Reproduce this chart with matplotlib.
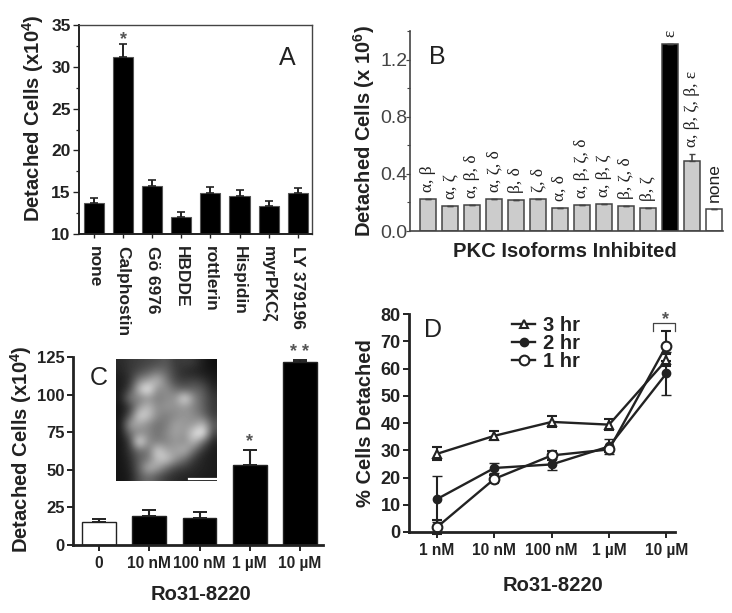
import numpy as np
import matplotlib
matplotlib.use("Agg")
import matplotlib.pyplot as plt

plt.rcParams["font.family"] = ["Liberation Sans", "DejaVu Sans"]
plt.rcParams["mathtext.default"] = "regular"

W, H = 732, 613
INK = "#222222"

# panel A
a_labels = ["none", "Calphostin", "Gö 6976", "HBDDE", "rottlerin", "Hispidin", "myrPKCζ", "LY 379196"]
a_values = [13.7, 31.2, 15.8, 12.05, 14.9, 14.5, 13.3, 14.9]
a_errors = [0.6, 1.5, 0.7, 0.55, 0.7, 0.8, 0.6, 0.6]

# panel B
b_labels = ["α, β", "α, ζ", "α, β, δ", "α, ζ, δ", "β, δ", "ζ, δ", "α, δ", "α, β, ζ, δ",
            "α, β, ζ", "β, ζ, δ", "β, ζ", "ε", "α, β, ζ, β, ε", "none"]
b_values = [0.226, 0.173, 0.18, 0.226, 0.219, 0.226, 0.163, 0.18, 0.189, 0.173, 0.163, 1.306, 0.487, 0.156]
b_errors = [0, 0, 0, 0, 0, 0, 0, 0, 0, 0, 0, 0, 0.05, 0]
b_colors = ["#cccccc"] * 11 + ["black", "#cccccc", "white"]

# panel C
c_labels = ["0", "10 nM", "100 nM", "1 µM", "10 µM"]
c_values = [15.3, 19, 18, 53, 121.8]
c_errors = [1.8, 4, 3.8, 10, 1]
c_colors = ["white", "black", "black", "black", "black"]

# rough brightness of the micrograph in panel C
photo = [
    [60, 70, 75, 80, 85, 95, 70, 75, 70, 50, 40],
    [55, 70, 85, 100, 120, 105, 75, 60, 55, 50, 45],
    [50, 65, 130, 150, 170, 120, 80, 75, 80, 70, 50],
    [50, 80, 170, 215, 130, 135, 110, 100, 105, 95, 60],
    [50, 125, 120, 135, 120, 130, 140, 205, 130, 100, 70],
    [45, 70, 140, 170, 130, 140, 135, 140, 125, 100, 70],
    [45, 90, 190, 175, 130, 120, 130, 140, 130, 110, 75],
    [45, 150, 150, 130, 110, 120, 150, 140, 140, 170, 95],
    [45, 110, 130, 130, 110, 130, 150, 135, 190, 215, 80],
    [45, 70, 215, 130, 120, 125, 140, 130, 170, 110, 55],
    [45, 70, 110, 110, 190, 150, 145, 165, 110, 65, 50],
    [45, 60, 100, 115, 170, 180, 140, 110, 70, 55, 50],
    [45, 55, 100, 165, 150, 110, 80, 70, 60, 55, 50],
    [45, 50, 90, 110, 90, 70, 60, 55, 55, 50, 50],
]

# panel D
d_labels = ["1 nM", "10 nM", "100 nM", "1 µM", "10 µM"]
d_3hr = [28.7, 35.3, 40.4, 39.4, 63.1]
d_3hr_err = [2.4, 1.6, 2.0, 2.0, 2.2]
d_2hr = [12.1, 23.5, 24.8, 31.4, 58.2]
d_2hr_err = [8.5, 2.0, 2.0, 2.6, 8.0]
d_1hr = [1.8, 19.5, 28.1, 30.3, 68.4]
d_1hr_err = [2.7, 1.5, 1.5, 0.8, 5.5]


def make_axes(fig, left, top, right, bottom):
    # pixel box -> figure fraction
    ax = fig.add_axes([left / W, 1 - bottom / H, (right - left) / W, (bottom - top) / H])
    ax.patch.set_alpha(0)
    return ax


def style(ax, lw=1.8, size=13.5, weight="bold", color=INK):
    for s in ["top", "right"]:
        ax.spines[s].set_visible(False)
    for s in ["left", "bottom"]:
        ax.spines[s].set_linewidth(lw)
        ax.spines[s].set_color(color)
    ax.tick_params(width=lw * 0.7, length=4, colors=color, labelsize=size, pad=2)
    for t in ax.get_xticklabels() + ax.get_yticklabels():
        t.set_fontweight(weight)


fig = plt.figure(figsize=(W / 100, H / 100), dpi=100)

# A
ax = make_axes(fig, 79, 25, 312, 234)
ax.bar(range(8), a_values, width=0.69, color="black", edgecolor="#555555", linewidth=0.8,
       yerr=[np.zeros(8), a_errors], error_kw=dict(ecolor=INK, elinewidth=1.4, capsize=3, capthick=1.2))
ax.set_xlim(-0.515, 7.49)
ax.set_ylim(10, 35)
ax.set_yticks([10, 15, 20, 25, 30, 35])
ax.set_yticks([12.5, 17.5, 22.5, 27.5, 32.5], minor=True)
ax.set_xticks(range(8))
ax.set_xticklabels(a_labels, rotation=-90)
style(ax, lw=1.4, size=12.5)
ax.tick_params(axis="y", which="minor", length=2.5, width=0.9, colors=INK)
ax.tick_params(axis="x", labelsize=12.5, length=3, pad=6)
ax.spines["top"].set_visible(True)
ax.spines["right"].set_visible(True)
for s in ["top", "right"]:
    ax.spines[s].set_linewidth(1.0)
    ax.spines[s].set_color("#444444")
ax.set_ylabel("Detached Cells (x10$^{4}$)", fontsize=14.6, fontweight="bold", color=INK, labelpad=3.5, y=0.555)
ax.text(1, 33.2, "*", ha="center", va="center", fontsize=13, fontweight="bold", color="#555555")
ax.text(6.63, 31.0, "A", ha="center", va="center", fontsize=18, color=INK)

# B
ax = make_axes(fig, 410, 31, 723, 231)
ax.bar(range(14), b_values, width=0.7, color=b_colors, edgecolor="#444444", linewidth=1.1,
       yerr=[np.zeros(14), b_errors], error_kw=dict(ecolor="#444444", elinewidth=1.2, capsize=2.5, capthick=1.0))
ax.set_xlim(-0.82, 13.4)
ax.set_ylim(0, 1.4)
ax.set_yticks([0, 0.4, 0.8, 1.2])
ax.set_yticklabels(["0.0", "0.4", "0.8", "1.2"])
ax.set_yticks([0.2, 0.6, 1.0, 1.4], minor=True)
ax.set_xticks([])
style(ax, lw=1.2, size=14, weight="normal", color="#444444")
ax.tick_params(axis="y", length=3, pad=-1)
ax.tick_params(axis="y", which="minor", length=2.5, width=0.8, colors="#444444")
ax.set_ylabel("Detached Cells (x 10$^{6}$)", fontsize=14.5, fontweight="bold", color=INK, labelpad=2)
ax.set_xlabel("PKC Isoforms Inhibited", fontsize=14.6, fontweight="bold", color=INK, labelpad=8, x=0.495)
for i, (lab, v, e) in enumerate(zip(b_labels, b_values, b_errors)):
    serif = lab != "none"
    ax.text(i, v + e + 0.05, lab, rotation=90, ha="center", va="bottom", color=INK,
            fontsize=12.5, family="Liberation Serif" if serif else "Liberation Sans")
ax.text(0.4, 1.22, "B", ha="center", va="center", fontsize=18, color=INK)

# C
ax = make_axes(fig, 73, 357, 323, 545)
ax.bar(range(5), c_values, width=0.67, color=c_colors, edgecolor=INK, linewidth=1.0,
       yerr=[np.zeros(5), c_errors], error_kw=dict(ecolor=INK, elinewidth=1.5, capsize=5, capthick=1.4))
ax.set_xlim(-0.52, 4.46)
ax.set_ylim(0, 125)
ax.set_yticks([0, 25, 50, 75, 100, 125])
ax.set_xticks(range(5))
ax.set_xticklabels(c_labels)
style(ax, lw=2.0, size=11.2)
ax.tick_params(axis="y", labelsize=12)
ax.tick_params(axis="x", pad=4)
ax.set_ylabel("Detached Cells (x10$^{4}$)", fontsize=14.6, fontweight="bold", color=INK, labelpad=2, y=0.51)
ax.set_xlabel("Ro31-8220", fontsize=14.5, fontweight="bold", color=INK, labelpad=10, x=0.51)
ax.text(3, 69, "*", ha="center", va="center", fontsize=13, fontweight="bold", color="#555555")
ax.text(4, 128, "* *", ha="center", va="center", fontsize=13, fontweight="bold", color="#555555", clip_on=False)
ax.text(0.0, 111, "C", ha="center", va="center", fontsize=18, color=INK)

inset = make_axes(fig, 116, 359, 217, 481)
inset.imshow(np.array(photo), cmap="gray", vmin=30, vmax=215, aspect="auto", interpolation="bicubic")
inset.set_xticks([])
inset.set_yticks([])
for s in inset.spines.values():
    s.set_visible(False)
inset.plot([0.72, 1.0], [0.02, 0.02], color="white", lw=1.6, transform=inset.transAxes)

# D
ax = make_axes(fig, 409, 314, 675, 532)
ebar = dict(elinewidth=1.5, capsize=3.5, capthick=1.4, ecolor=INK, color=INK, linewidth=1.7, clip_on=False)
x = np.arange(5)
ax.errorbar(x, d_3hr, yerr=d_3hr_err, marker="^", ms=6, mfc="white", mec=INK, mew=1.5, label="3 hr", **ebar)
ax.errorbar(x, d_2hr, yerr=d_2hr_err, marker="o", ms=6, mfc=INK, mec=INK, mew=1.0, label="2 hr", **ebar)
ax.errorbar(x, d_1hr, yerr=d_1hr_err, marker="o", ms=7, mfc="white", mec=INK, mew=1.5, label="1 hr", **ebar)
ax.set_xlim(-0.49, 4.15)
ax.set_ylim(0, 80)
ax.set_yticks(range(0, 90, 10))
ax.set_xticks(x)
ax.set_xticklabels(d_labels)
style(ax, lw=2.0, size=11.2)
ax.tick_params(axis="y", labelsize=13)
ax.tick_params(axis="x", pad=4)
ax.set_ylabel("% Cells Detached", fontsize=14.5, fontweight="bold", color=INK, labelpad=4)
ax.set_xlabel("Ro31-8220", fontsize=14.5, fontweight="bold", color=INK, labelpad=13, x=0.54)
ax.text(-0.08, 74, "D", ha="center", va="center", fontsize=18, color=INK)
ax.plot([3.77, 3.77, 4.15, 4.15], [73.8, 76.7, 76.7, 73.8], color="#444444", lw=0.9, clip_on=False)
ax.text(3.98, 78, "*", ha="center", va="center", fontsize=13, fontweight="bold", color="#555555")
handles, labels = ax.get_legend_handles_labels()
handles = [h[0] for h in handles]
ax.legend(handles, labels, loc="upper left", bbox_to_anchor=(0.387, 0.99), frameon=False,
          prop=dict(weight="bold", size=14.5), labelspacing=-0.06, handlelength=1.15, handletextpad=0.4,
          labelcolor=INK, borderpad=0, borderaxespad=0)

fig.savefig("out.png", dpi=100)
